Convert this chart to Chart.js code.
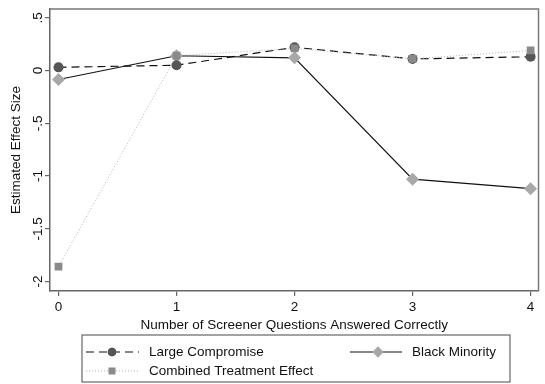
<!DOCTYPE html>
<html>
<head>
<meta charset="utf-8">
<script src="https://cdn.jsdelivr.net/npm/chart.js@4.4.0/dist/chart.umd.min.js"></script>
<style>
html,body{margin:0;padding:0;background:#fff;}
#wrap{width:545px;height:384px;position:relative;}
</style>
</head>
<body>
<div id="wrap"><canvas id="c" width="545" height="384"></canvas></div>
<script>
const categories = [0, 1, 2, 3, 4];
const largeCompromise = [0.03, 0.05, 0.22, 0.11, 0.13];
const blackMinority = [-0.085, 0.14, 0.12, -1.03, -1.12];
const combinedEffect = [-1.86, 0.14, 0.21, 0.11, 0.19];
const yTicks = [0.5, 0, -0.5, -1, -1.5, -2];
const yTickLabels = ['.5', '0', '-.5', '-1', '-1.5', '-2'];
const xTicks = [0, 1, 2, 3, 4];
const seriesNames = ['Large Compromise', 'Black Minority', 'Combined Treatment Effect'];
const xTitle = 'Number of Screener Questions Answered Correctly';
const yTitle = 'Estimated Effect Size';

const FONT = "'Liberation Sans', Arial, Helvetica, sans-serif";
const FS = 13.5;
const toPts = arr => categories.map((c, i) => ({x: c, y: arr[i]}));

const dsCombined = {
  label: seriesNames[2], data: toPts(combinedEffect),
  borderColor: '#b0b0b0', borderWidth: 1, borderDash: [1, 2],
  pointStyle: 'rect', pointRadius: 5.5, pointBackgroundColor: '#8a8a8a', pointBorderColor: '#8a8a8a', pointBorderWidth: 0
};
const dsLarge = {
  label: seriesNames[0], data: toPts(largeCompromise),
  borderColor: '#111', borderWidth: 1.2, borderDash: [8, 5],
  pointStyle: 'circle', pointRadius: 5, pointBackgroundColor: '#555', pointBorderColor: '#555', pointBorderWidth: 0
};
const dsBlack = {
  label: seriesNames[1], data: toPts(blackMinority),
  borderColor: '#111', borderWidth: 1.2, borderDash: [],
  pointStyle: 'rectRot', pointRadius: 6.5, pointBackgroundColor: '#a8a8a8', pointBorderColor: '#a8a8a8', pointBorderWidth: 0
};

const framePlugin = {
  id: 'frame',
  beforeDatasetsDraw(chart) {
    const a = chart.chartArea, ctx = chart.ctx;
    ctx.save();
    ctx.strokeStyle = '#777';
    ctx.lineWidth = 1.5;
    ctx.beginPath();
    ctx.moveTo(a.left, a.top); ctx.lineTo(a.right, a.top); ctx.lineTo(a.right, a.bottom);
    ctx.stroke();
    ctx.restore();
  },
  afterDraw(chart) {
    const ctx = chart.ctx, ys = chart.scales.y, a = chart.chartArea;
    ctx.save();
    ctx.fillStyle = '#111';
    ctx.font = FS + 'px ' + FONT;
    ctx.textAlign = 'center';
    ctx.textBaseline = 'middle';
    yTicks.forEach((v, i) => {
      const py = ys.getPixelForValue(v);
      ctx.save();
      ctx.translate(38, py);
      ctx.rotate(-Math.PI / 2);
      ctx.fillText(yTickLabels[i], 0, 0);
      ctx.restore();
    });
    ctx.save();
    ctx.translate(16, (a.top + a.bottom) / 2);
    ctx.rotate(-Math.PI / 2);
    ctx.fillText(yTitle, 0, 0);
    ctx.restore();
    ctx.restore();
  }
};

const legendPlugin = {
  id: 'boxLegend',
  afterDraw(chart) {
    const ctx = chart.ctx;
    const box = {x: 82, y: 335, w: 428, h: 47};
    ctx.save();
    ctx.strokeStyle = '#666';
    ctx.lineWidth = 1.2;
    ctx.strokeRect(box.x, box.y, box.w, box.h);
    const items = [
      {ds: dsLarge, lx: 86, mx: 112, rx: 139, tx: 149, y: 352},
      {ds: dsBlack, lx: 350, mx: 378, rx: 402, tx: 412, y: 352},
      {ds: dsCombined, lx: 86, mx: 112, rx: 139, tx: 149, y: 371}
    ];
    items.forEach(it => {
      const d = it.ds;
      ctx.save();
      ctx.strokeStyle = d.borderColor;
      ctx.lineWidth = d.borderWidth;
      ctx.setLineDash(d.borderDash);
      ctx.beginPath();
      ctx.moveTo(it.lx, it.y); ctx.lineTo(it.rx, it.y);
      ctx.stroke();
      ctx.restore();
      ctx.fillStyle = d.pointBackgroundColor;
      Chart.helpers.drawPoint(ctx, {pointStyle: d.pointStyle, radius: d.pointRadius * 0.85, borderWidth: 0}, it.mx, it.y);
      ctx.fill();
      ctx.fillStyle = '#111';
      ctx.font = FS + 'px ' + FONT;
      ctx.textBaseline = 'middle';
      ctx.textAlign = 'left';
      ctx.fillText(d.label, it.tx, it.y);
    });
    ctx.restore();
  }
};

new Chart(document.getElementById('c'), {
  type: 'line',
  data: {datasets: [dsCombined, dsLarge, dsBlack]},
  options: {
    responsive: false,
    animation: false,
    events: [],
    layout: {padding: {left: 0, right: 4, top: 9, bottom: 51}},
    plugins: {legend: {display: false}, tooltip: {enabled: false}},
    scales: {
      x: {
        type: 'linear', min: -0.072, max: 4.067,
        afterBuildTicks: s => { s.ticks = xTicks.map(v => ({value: v})); },
        afterFit: s => { s.height = 42; },
        grid: {display: true, drawOnChartArea: false, drawTicks: true, tickLength: 5, color: '#666', lineWidth: 1.2},
        border: {display: true, color: '#666', width: 1.5},
        ticks: {color: '#111', font: {family: FONT, size: FS}, padding: 3, callback: v => String(v)},
        title: {display: true, text: xTitle, color: '#111', font: {family: FONT, size: FS}, padding: {top: 0, bottom: 0}}
      },
      y: {
        type: 'linear', min: -2.09, max: 0.583,
        afterBuildTicks: s => { s.ticks = yTicks.map(v => ({value: v})); },
        afterFit: s => { s.width = 50; },
        grid: {display: true, drawOnChartArea: false, drawTicks: true, tickLength: 5, color: '#666', lineWidth: 1.2},
        border: {display: true, color: '#666', width: 1.5},
        ticks: {display: false},
        title: {display: false}
      }
    }
  },
  plugins: [framePlugin, legendPlugin]
});
</script>
</body>
</html>
